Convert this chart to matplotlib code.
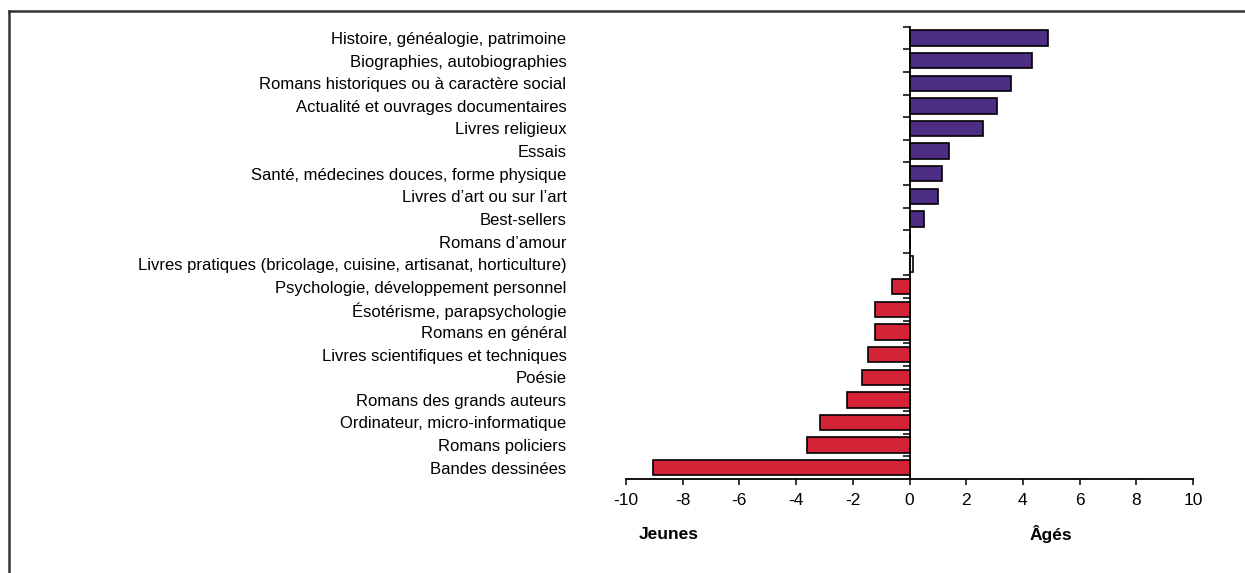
import matplotlib.pyplot as plt
import matplotlib.ticker as ticker
from matplotlib.lines import Line2D
import numpy as np

plt.rcParams['font.family'] = ['Liberation Sans', 'DejaVu Sans']

# categories top to bottom, with their score (negative = young readers, positive = old)
categories = [
    'Histoire, généalogie, patrimoine',
    'Biographies, autobiographies',
    'Romans historiques ou à caractère social',
    'Actualité et ouvrages documentaires',
    'Livres religieux',
    'Essais',
    'Santé, médecines douces, forme physique',
    'Livres d\u2019art ou sur l\u2019art',
    'Best-sellers',
    'Romans d\u2019amour',
    'Livres pratiques (bricolage, cuisine, artisanat, horticulture)',
    'Psychologie, développement personnel',
    'Ésotérisme, parapsychologie',
    'Romans en général',
    'Livres scientifiques et techniques',
    'Poésie',
    'Romans des grands auteurs',
    'Ordinateur, micro-informatique',
    'Romans policiers',
    'Bandes dessinées',
]
values = [4.9, 4.32, 3.58, 3.08, 2.61, 1.38, 1.13, 1.0, 0.52, 0.0,
          0.12, -0.6, -1.22, -1.22, -1.46, -1.69, -2.19, -3.16, -3.63, -9.03]
xticks = [-10, -8, -6, -4, -2, 0, 2, 4, 6, 8, 10]

purple = '#4E2D84'
red = '#D42236'

fig = plt.figure(figsize=(12.45, 5.73), dpi=100)
ax = fig.add_axes([626 / 1245, 1 - 479 / 573, (1193 - 626) / 1245, (479 - 26.7) / 573])

y = np.arange(len(categories))[::-1]
colors = [purple if v >= 0.3 else ('white' if v >= 0 else red) for v in values]
ax.barh(y, values, height=0.68, color=colors, edgecolor='black', linewidth=1.2, zorder=3)

ax.set_xlim(-10, 10)
ax.set_ylim(-0.5, len(categories) - 0.5)

# spines: y axis at zero
for s in ['top', 'right']:
    ax.spines[s].set_visible(False)
ax.spines['left'].set_position(('data', 0))
ax.spines['left'].set_linewidth(1.3)
ax.spines['bottom'].set_linewidth(1.3)
ax.spines['left'].set_zorder(4)

# x ticks
ax.set_xticks(xticks)
ax.set_xticklabels([str(t) for t in xticks], fontsize=12.5)
ax.tick_params(axis='x', length=4, width=1.1, pad=6)

# y: ticks at boundaries, labels at centers far on the left
ax.yaxis.set_major_locator(ticker.FixedLocator(np.arange(len(categories)) + 0.5))
ax.yaxis.set_major_formatter(ticker.NullFormatter())
ax.yaxis.set_minor_locator(ticker.FixedLocator(y))
ax.yaxis.set_minor_formatter(ticker.FixedFormatter(categories))
ax.tick_params(axis='y', which='major', length=5, width=1.1, direction='out')
ax.tick_params(axis='y', which='minor', length=0, pad=247, labelsize=12)

ax.text(-8.5, -2.95, 'Jeunes', ha='center', va='center', fontsize=12.5, fontweight='bold')
ax.text(5.0, -2.95, 'Âgés', ha='center', va='center', fontsize=12.5, fontweight='bold')

# frame around the figure (top and left visible)
fig.add_artist(Line2D([8.5 / 1245, 8.5 / 1245], [0, 1 - 11 / 573],
                      transform=fig.transFigure, color='#333333', linewidth=1.8))
fig.add_artist(Line2D([8.5 / 1245, 1], [1 - 11 / 573, 1 - 11 / 573],
                      transform=fig.transFigure, color='#333333', linewidth=1.8))

plt.savefig('out.png', dpi=100)
